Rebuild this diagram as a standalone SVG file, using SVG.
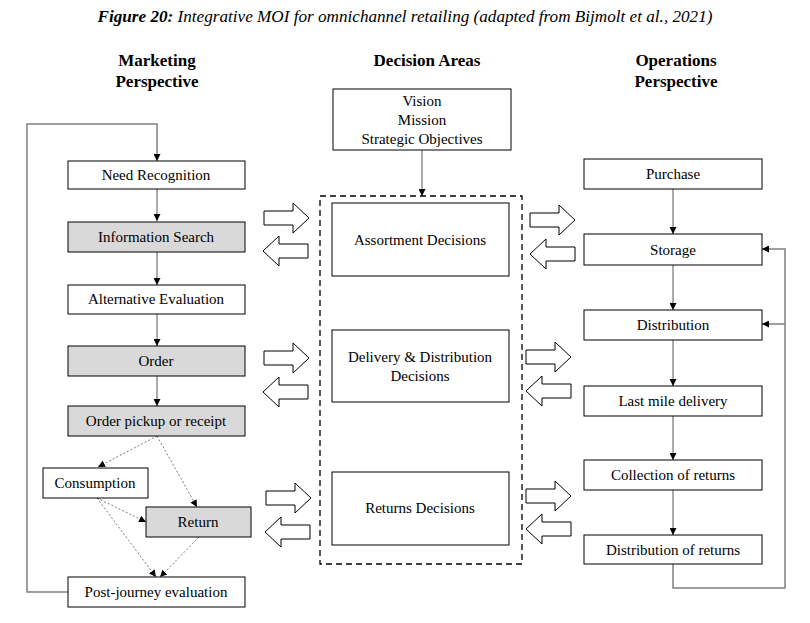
<svg xmlns="http://www.w3.org/2000/svg" width="810" height="623" viewBox="0 0 810 623" font-family="Liberation Serif, DejaVu Serif, serif">
<style>
text{font-family:'Liberation Serif','DejaVu Serif',serif;fill:#000}
.t{font-size:15px;text-anchor:middle}
.h{font-size:17px;font-weight:bold;text-anchor:middle}
.box{fill:#fff;stroke:#000;stroke-width:1}
.g{fill:#d9d9d9;stroke:#000;stroke-width:1}
.ln{fill:none;stroke:#595959;stroke-width:1}
.loop{fill:none;stroke:#808080;stroke-width:1.5}
.dot{fill:none;stroke:#595959;stroke-width:0.8;stroke-dasharray:2,2}
.blk{fill:#fff;stroke:#000;stroke-width:1}
</style>
<defs>
<marker id="ah" viewBox="0 0 10 10" refX="10" refY="5" markerWidth="7" markerHeight="7" markerUnits="userSpaceOnUse" orient="auto">
<path d="M0,0 L10,5 L0,10 Z" fill="#000"/>
</marker>
<path id="ra" d="M0,-7 H29 V-15 L45,0 L29,15 V7 H0 Z"/>
<path id="la" d="M0,-7 H-29 V-15 L-45,0 L-29,15 V7 H0 Z"/>
</defs>
<rect width="810" height="623" fill="#fff"/>
<text x="405" y="22" style="font-size:17px;font-style:italic;text-anchor:middle" textLength="615" lengthAdjust="spacingAndGlyphs"><tspan font-weight="bold">Figure 20:</tspan> Integrative MOI for omnichannel retailing (adapted from Bijmolt et al., 2021)</text>

<g id="headers">
<text class="h" x="157" y="66">Marketing</text>
<text class="h" x="157" y="87">Perspective</text>
<text class="h" x="427" y="66">Decision Areas</text>
<text class="h" x="676" y="66">Operations</text>
<text class="h" x="676" y="87">Perspective</text>
</g>

<g id="connectors">
<path class="loop" d="M68,592 H27 V124 H157 V161" marker-end="url(#ah)"/>
<path class="ln" d="M157,189 V221" marker-end="url(#ah)"/>
<path class="ln" d="M157,252 V285" marker-end="url(#ah)"/>
<path class="ln" d="M157,314 V346" marker-end="url(#ah)"/>
<path class="ln" d="M157,376 V406" marker-end="url(#ah)"/>
<path class="dot" d="M157,436 L98,467" marker-end="url(#ah)"/>
<path class="dot" d="M157,436 L197,507" marker-end="url(#ah)"/>
<path class="dot" d="M97,498 L146,522" marker-end="url(#ah)"/>
<path class="dot" d="M97,498 L156,577" marker-end="url(#ah)"/>
<path class="dot" d="M199,537 L160,577" marker-end="url(#ah)"/>
<path class="ln" d="M422,150 V196" marker-end="url(#ah)"/>
<path class="ln" d="M673,189 V234" marker-end="url(#ah)"/>
<path class="ln" d="M673,265 V310" marker-end="url(#ah)"/>
<path class="ln" d="M673,340 V386" marker-end="url(#ah)"/>
<path class="ln" d="M673,416 V460" marker-end="url(#ah)"/>
<path class="ln" d="M673,490 V535" marker-end="url(#ah)"/>
<path class="loop" d="M673,564 V588 H785 V249 H762" marker-end="url(#ah)"/>
<path class="loop" d="M785,324 H762" marker-end="url(#ah)"/>
<g id="block-arrows" class="blk">
<use href="#ra" x="264" y="218"/>
<use href="#la" x="308" y="251"/>
<use href="#ra" x="264" y="358"/>
<use href="#la" x="308" y="392"/>
<use href="#ra" x="266" y="498"/>
<use href="#la" x="310" y="532"/>
<use href="#ra" x="530" y="220"/>
<use href="#la" x="575" y="254"/>
<use href="#ra" x="526" y="357"/>
<use href="#la" x="571" y="391"/>
<use href="#ra" x="526" y="496"/>
<use href="#la" x="571" y="529"/>
</g>
</g>

<g id="vision"><rect class="box" x="333" y="89" width="178" height="61"/>
<text class="t" x="422" y="106">Vision</text><text class="t" x="422" y="125">Mission</text><text class="t" x="422" y="144">Strategic Objectives</text></g>

<g id="decision-areas"><rect x="320" y="196" width="202" height="368" fill="none" stroke="#000" stroke-width="1.3" stroke-dasharray="6,4"/></g>
<g id="assortment"><rect class="box" x="332" y="203" width="177" height="73"/><text class="t" x="420" y="245">Assortment Decisions</text></g>
<g id="delivery"><rect class="box" x="332" y="330" width="177" height="72"/><text class="t" x="420" y="362">Delivery &amp; Distribution</text><text class="t" x="420" y="381">Decisions</text></g>
<g id="returns-decisions"><rect class="box" x="332" y="472" width="177" height="73"/><text class="t" x="420" y="513">Returns Decisions</text></g>

<g id="need"><rect class="box" x="68" y="161" width="177" height="28"/><text class="t" x="156" y="180">Need Recognition</text></g>
<g id="info"><rect class="g" x="68" y="222" width="177" height="30"/><text class="t" x="156" y="242">Information Search</text></g>
<g id="alt"><rect class="box" x="68" y="285" width="177" height="29"/><text class="t" x="156" y="304">Alternative Evaluation</text></g>
<g id="order"><rect class="g" x="68" y="346" width="177" height="30"/><text class="t" x="156" y="366">Order</text></g>
<g id="pickup"><rect class="g" x="68" y="406" width="177" height="30"/><text class="t" x="156" y="426">Order pickup or receipt</text></g>
<g id="consumption"><rect class="box" x="43" y="468" width="105" height="30"/><text class="t" x="95" y="488">Consumption</text></g>
<g id="return"><rect class="g" x="146" y="507" width="105" height="30"/><text class="t" x="198" y="527">Return</text></g>
<g id="post"><rect class="box" x="68" y="577" width="177" height="30"/><text class="t" x="156" y="597">Post-journey evaluation</text></g>

<g id="purchase"><rect class="box" x="584" y="159" width="178" height="30"/><text class="t" x="673" y="179">Purchase</text></g>
<g id="storage"><rect class="box" x="584" y="234" width="178" height="31"/><text class="t" x="673" y="255">Storage</text></g>
<g id="distribution"><rect class="box" x="584" y="310" width="178" height="30"/><text class="t" x="673" y="330">Distribution</text></g>
<g id="lastmile"><rect class="box" x="584" y="386" width="178" height="30"/><text class="t" x="673" y="406">Last mile delivery</text></g>
<g id="collection"><rect class="box" x="584" y="460" width="178" height="30"/><text class="t" x="673" y="480">Collection of returns</text></g>
<g id="distreturns"><rect class="box" x="584" y="535" width="178" height="29"/><text class="t" x="673" y="555">Distribution of returns</text></g>
</svg>
